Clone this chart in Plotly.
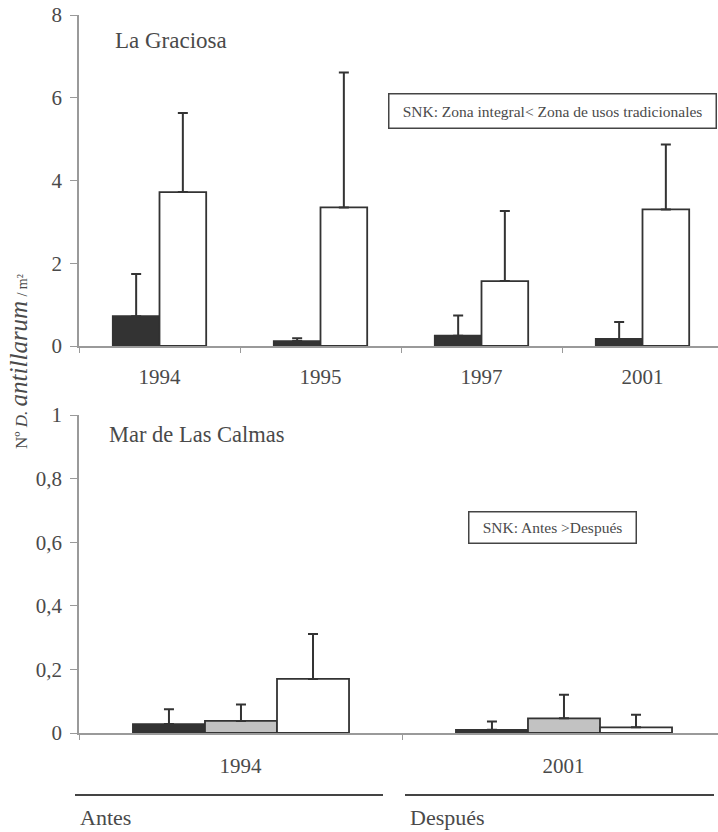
import plotly.graph_objects as go

# ---------------- data ----------------
top_years = ["1994", "1995", "1997", "2001"]
top_integral = [0.72, 0.12, 0.25, 0.17]
top_integral_sd = [1.02, 0.07, 0.49, 0.41]
top_tradicional = [3.72, 3.35, 1.57, 3.30]
top_tradicional_sd = [1.91, 3.26, 1.69, 1.57]

bot_years = ["1994", "2001"]
bot_s1 = [0.028, 0.010]
bot_s1_sd = [0.047, 0.026]
bot_s2 = [0.038, 0.046]
bot_s2_sd = [0.052, 0.074]
bot_s3 = [0.170, 0.018]
bot_s3_sd = [0.141, 0.039]

W, H = 718, 832
FONT = "Liberation Serif, serif"
TXT = "#4a4a4a"
DARK = "#333333"
GRAY = "#c2c2c2"
WHITE = "#ffffff"
EDGE = "#333333"
AX = "#9a9a9a"

fig = go.Figure()


def add_bar(x, y, sd, color, offset, width, xa, ya, name):
    fig.add_trace(go.Bar(
        x=x, y=y, name=name, xaxis=xa, yaxis=ya,
        offset=offset, width=width,
        marker=dict(color=color, line=dict(color=EDGE, width=1.8)),
        error_y=dict(type="data", array=sd, arrayminus=[0] * len(sd),
                     symmetric=False, color="#333333", thickness=2, width=5),
        showlegend=False,
    ))


add_bar(top_years, top_integral, top_integral_sd, DARK, -0.29, 0.29, "x", "y", "Zona integral")
add_bar(top_years, top_tradicional, top_tradicional_sd, WHITE, 0.0, 0.29, "x", "y", "Zona de usos tradicionales")

add_bar(bot_years, bot_s1, bot_s1_sd, DARK, -0.333, 0.223, "x2", "y2", "Serie 1")
add_bar(bot_years, bot_s2, bot_s2_sd, GRAY, -0.110, 0.223, "x2", "y2", "Serie 2")
add_bar(bot_years, bot_s3, bot_s3_sd, WHITE, 0.113, 0.223, "x2", "y2", "Serie 3")

x0 = 79 / W
xaxis_common = dict(
    type="category", tickson="boundaries", ticks="outside", ticklen=5,
    tickcolor=AX, tickwidth=1.2, showline=True, linecolor=AX, linewidth=1.5,
    showgrid=False, zeroline=False, domain=[x0, 1.0],
    tickfont=dict(family=FONT, size=21, color=TXT),
    fixedrange=True,
)
yaxis_common = dict(
    ticks="outside", ticklen=7, tickcolor=AX, tickwidth=1.2,
    showline=True, linecolor=AX, linewidth=1.5, showgrid=False,
    zeroline=False, tickfont=dict(family=FONT, size=21, color=TXT),
    ticklabelstandoff=4, fixedrange=True,
)

fig.update_layout(
    width=W, height=H,
    margin=dict(l=0, r=0, t=0, b=0, autoexpand=False),
    paper_bgcolor="white", plot_bgcolor="white",
    barmode="overlay",
    separators=",.",
    showlegend=False,
    xaxis=dict(**xaxis_common, anchor="y", range=[-0.5, -0.5 + 639 / 161],
               ticklabelstandoff=11),
    yaxis=dict(**yaxis_common, anchor="x", range=[0, 8], dtick=2,
               domain=[1 - 346 / H, 1 - 15 / H]),
    xaxis2=dict(**xaxis_common, anchor="y2", range=[-0.5, -0.5 + 639 / 323],
                ticklabelstandoff=13),
    yaxis2=dict(**yaxis_common, anchor="x2", range=[0, 1], dtick=0.2,
                domain=[1 - 733 / H, 1 - 415 / H]),
)

ann = []
ann.append(dict(text="La Graciosa", x=113 / W, y=1 - 41 / H, xref="paper", yref="paper",
                xanchor="left", yanchor="middle", showarrow=False,
                font=dict(family=FONT, size=23, color=TXT)))
ann.append(dict(text="Mar de Las Calmas", x=107 / W, y=1 - 434 / H, xref="paper", yref="paper",
                xanchor="left", yanchor="middle", showarrow=False,
                font=dict(family=FONT, size=22.5, color=TXT)))
ann.append(dict(text="SNK: Zona integral< Zona de usos tradicionales",
                x=552 / W, y=1 - 110.5 / H, xref="paper", yref="paper",
                xanchor="center", yanchor="middle", showarrow=False,
                width=324, height=31, borderpad=1, bordercolor="#444444", borderwidth=1.5,
                bgcolor="white", font=dict(family=FONT, size=15.5, color=TXT)))
ann.append(dict(text="SNK: Antes >Después",
                x=552 / W, y=1 - 527 / H, xref="paper", yref="paper",
                xanchor="center", yanchor="middle", showarrow=False,
                width=164, height=28, borderpad=1, bordercolor="#444444", borderwidth=1.5,
                bgcolor="white", font=dict(family=FONT, size=15.5, color=TXT)))
ann.append(dict(text="Antes", x=78 / W, y=1 - 817 / H, xref="paper", yref="paper",
                xanchor="left", yanchor="middle", showarrow=False,
                font=dict(family=FONT, size=22, color=TXT)))
ann.append(dict(text="Después", x=408 / W, y=1 - 817 / H, xref="paper", yref="paper",
                xanchor="left", yanchor="middle", showarrow=False,
                font=dict(family=FONT, size=22, color=TXT)))
ann.append(dict(
    text="Nº <i>D.</i> <i><span style='font-size:25px'>antillarum</span></i>"
         " <span style='font-size:14px'>/ m²</span>",
    x=18 / W, y=1 - 362 / H, xref="paper", yref="paper", textangle=-90,
    xanchor="center", yanchor="middle", showarrow=False,
    font=dict(family=FONT, size=17, color=TXT)))
fig.update_layout(annotations=ann)

fig.update_layout(shapes=[
    dict(type="line", xref="paper", yref="paper", x0=75 / W, x1=383 / W,
         y0=1 - 795 / H, y1=1 - 795 / H, line=dict(color="#444444", width=2)),
    dict(type="line", xref="paper", yref="paper", x0=405 / W, x1=714 / W,
         y0=1 - 795 / H, y1=1 - 795 / H, line=dict(color="#444444", width=2)),
])

fig.write_html("out.html", config={"displayModeBar": False},
               post_script="document.body.style.margin='0px';document.body.style.padding='0px';")
